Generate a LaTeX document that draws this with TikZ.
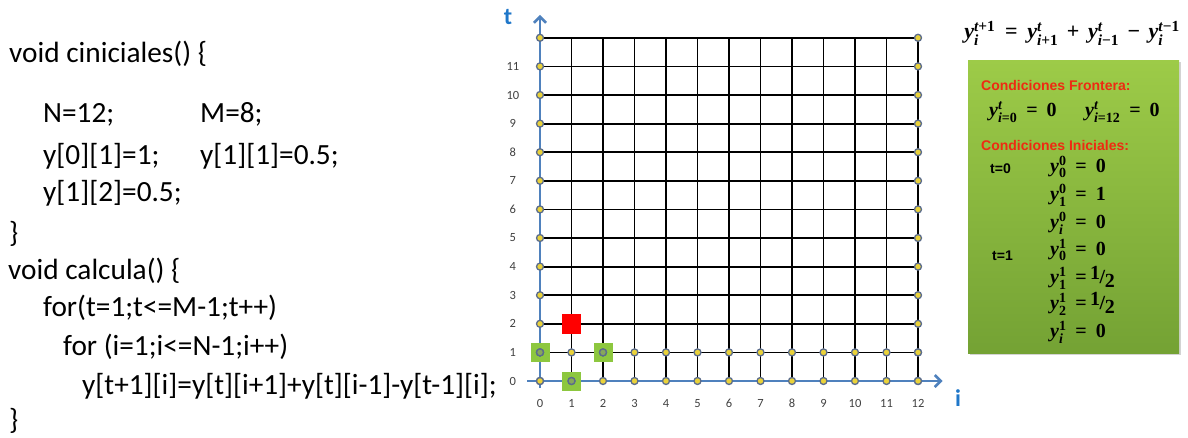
\RequirePackage{fix-cm}
\documentclass[tikz,border=0pt]{standalone}
\usepackage{amsmath}
\usepackage[no-math]{fontspec}
\setmainfont{Carlito}
\newfontfamily\arialfont{Liberation Sans}
\newfontfamily\eqfont{Liberation Serif}
\usetikzlibrary{arrows.meta,shadows}
\definecolor{axisblue}{HTML}{4F81BD}
\definecolor{labelblue}{HTML}{1F77C9}
\definecolor{dotyellow}{HTML}{EAD23A}
\definecolor{dotrim}{HTML}{5B6C8C}
\definecolor{cellgreen}{HTML}{8DC73F}
\definecolor{boxtop}{HTML}{9DCB48}
\definecolor{boxbot}{HTML}{74A234}
\definecolor{headred}{HTML}{EE2A12}
\newcommand{\mi}[1]{\text{\eqfont\bfseries\itshape #1}}
\newcommand{\mn}[1]{\text{\eqfont\bfseries #1}}
\newcommand{\vy}{\mi{y}}
\newcommand{\vi}{\mi{i}}
\newcommand{\vt}{\mi{t}}
\newcommand{\meq}{\mathrel{\,\mn{=}\,}}
\newcommand{\mplus}{\mathbin{\,\mn{+}\,}}
\newcommand{\mminus}{\mathbin{\,\mn{−}\,}}
\newcommand{\half}{\raisebox{4pt}{\mn{1}}\kern-0.5pt\mn{/}\kern-0.5pt\raisebox{-4pt}{\mn{2}}}

\begin{document}
\begin{tikzpicture}[x=1pt,y=-1pt,
  codeline/.style={anchor=west,inner sep=0pt,font=\fontsize{29.3}{36}\selectfont},
  gridline/.style={black,line width=1.8pt},
  axisline/.style={axisblue,line width=2.6pt,-{Straight Barb[length=6pt,width=12pt]}},
  ticklabel/.style={font=\fontsize{12.5}{14}\selectfont,text=black!75},
  dot/.style={circle,fill=dotyellow,draw=dotrim,line width=1.3pt,inner sep=0pt,minimum size=7pt},
  celldot/.style={dot,fill=cellgreen!55!gray},
  greencell/.style={fill=cellgreen,inner sep=0pt,minimum size=19pt},
  redcell/.style={fill=red,inner sep=0pt,minimum size=19.5pt},
  condbox/.style={draw=none,top color=boxtop,bottom color=boxbot,inner sep=0pt,
    minimum width=211pt,minimum height=293pt,drop shadow={shadow xshift=2pt,shadow yshift=-2pt,opacity=0.35}},
  redhead/.style={anchor=west,inner sep=0pt,text=headred,font=\arialfont\bfseries\fontsize{14}{16}\selectfont},
  tlabel/.style={anchor=west,inner sep=0pt,font=\arialfont\bfseries\fontsize{14}{16}\selectfont},
  eqn/.style={anchor=west,inner sep=0pt,font=\fontsize{20}{23}\selectfont},
  axisname/.style={text=labelblue,font=\bfseries\fontsize{24}{28}\selectfont}]
  \useasboundingbox (0,0) rectangle (1188,437);

  % code
  \node[codeline] (l1) at (9,55) {\strut void ciniciales() \{};
  \node[codeline] (l2) at (43,115) {\strut N=12;};
  \node[codeline] (l2b) at (200,115) {\strut M=8;};
  \node[codeline] (l3) at (43,157) {\strut y[0][1]=1;};
  \node[codeline] (l3b) at (200,157) {\strut y[1][1]=0.5;};
  \node[codeline] (l4) at (43,194) {\strut y[1][2]=0.5;};
  \node[codeline] (l5) at (9,235) {\strut \}};
  \node[codeline] (l6) at (8,272) {\strut void calcula() \{};
  \node[codeline] (l7) at (43,309) {\strut for(t=1;t<=M-1;t++)};
  \node[codeline] (l8) at (63,348) {\strut for (i=1;i<=N-1;i++)};
  \node[codeline] (l9) at (82,387) {\strut y[t+1][i]=y[t][i+1]+y[t][i-1]-y[t-1][i];};
  \node[codeline] (l10) at (9,422) {\strut \}};

  % grid
  \begin{scope}[shift={(540,381)},x=31.5pt,y=28.6pt]
    \foreach \k in {0,...,12} {
      \draw[gridline] (\k,0) -- (\k,12);
      \draw[gridline] (0,\k) -- (12,\k);
    }
    \draw[axisline] (0,-0.25) -- (0,12.8);
    \draw[axisline] (-0.4,0) -- (12.78,0);
    \foreach \k in {0,...,11}
      \node[ticklabel] at (-0.86,\k) {\k};
    \foreach \k in {0,...,12}
      \node[ticklabel] at (\k,-0.78) {\k};
    \node[greencell] (g01) at (0,1) {};
    \node[greencell] (g21) at (2,1) {};
    \node[greencell] (g10) at (1,0) {};
    \node[redcell] (r12) at (1,2) {};
    \foreach \k in {0,...,12} {
      \node[dot] at (0,\k) {};
      \node[dot] at (12,\k) {};
      \node[dot] at (\k,0) {};
      \node[dot] at (\k,1) {};
    }
    \node[celldot] at (g01) {};
    \node[celldot] at (g21) {};
    \node[celldot] at (g10) {};
  \end{scope}
  \node[axisname] (tname) at (508,17) {t};
  \node[axisname] (iname) at (958,398) {i};

  % recurrence and conditions
  \node[font=\fontsize{22}{25}\selectfont] (rec) at (1072,33)
    {$\vy_{\vi}^{\vt\mn{+1}} \meq \vy_{\vi\mn{+1}}^{\vt} \mplus \vy_{\vi\mn{−1}}^{\vt} \mminus \vy_{\vi}^{\vt\mn{−1}}$};
  \node[condbox] (conds) at (1073.5,206.5) {};
  \node[redhead] (front) at (981,85) {Condiciones Frontera:};
  \node[eqn] (bc0) at (989,112) {$\vy^{\vt}_{\vi\mn{=0}} \meq \mn{0}$};
  \node[eqn] (bc12) at (1085,112) {$\vy^{\vt}_{\vi\mn{=12}} \meq \mn{0}$};
  \node[redhead] (inic) at (981,145) {Condiciones Iniciales:};
  \node[tlabel] (t0) at (990,169) {t=0};
  \node[eqn] (a1) at (1050,167) {$\vy^{\mn{0}}_{\mn{0}} \meq \mn{0}$};
  \node[eqn] (a2) at (1050,195) {$\vy^{\mn{0}}_{\mn{1}} \meq \mn{1}$};
  \node[eqn] (a3) at (1050,223) {$\vy^{\mn{0}}_{\vi} \meq \mn{0}$};
  \node[tlabel] (t1) at (992,256) {t=1};
  \node[eqn] (b1) at (1050,250) {$\vy^{\mn{1}}_{\mn{0}} \meq \mn{0}$};
  \node[eqn] (b2) at (1050,278) {$\vy^{\mn{1}}_{\mn{1}} \meq $\half};
  \node[eqn] (b3) at (1050,304) {$\vy^{\mn{1}}_{\mn{2}} \meq $\half};
  \node[eqn] (b4) at (1050,332) {$\vy^{\mn{1}}_{\vi} \meq \mn{0}$};
\end{tikzpicture}
\end{document}
